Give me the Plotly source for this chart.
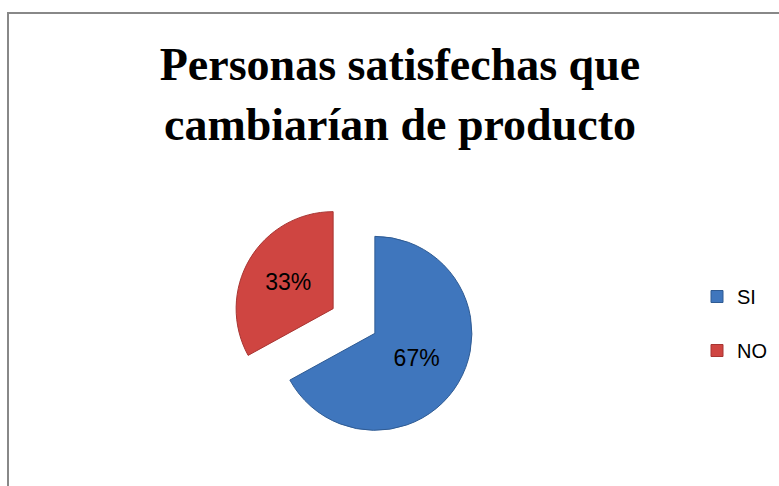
import plotly.graph_objects as go

labels = ["SI", "NO"]
values = [67, 33]
colors = ["#3f76bd", "#cf4541"]
line_colors = ["#2f5b93", "#a83532"]
title_text = "Personas satisfechas que<br>cambiarían de producto"

W, H = 779, 486

fig = go.Figure()

cx, cy, r, pull = 354, 321, 97, 0.25
half = r * (1 + pull)

fig.add_trace(go.Pie(
    labels=labels,
    values=values,
    sort=False,
    direction="clockwise",
    rotation=0,
    pull=[pull, pull],
    marker=dict(colors=colors, line=dict(color=line_colors, width=1)),
    texttemplate="%{percent:.0%}",
    textposition="inside",
    insidetextorientation="horizontal",
    textfont=dict(family="Liberation Sans", size=23, color="#000000"),
    showlegend=False,
    hoverinfo="label+percent",
    domain=dict(x=[(cx - half) / W, (cx + half) / W],
                y=[1 - (cy + half) / H, 1 - (cy - half) / H]),
))

for i, (lab, col) in enumerate(zip(labels, colors)):
    fig.add_trace(go.Scatter(
        x=[None], y=[None], mode="markers", name=lab,
        legendgroup=lab,
        marker=dict(symbol="square", size=12, color=col,
                    line=dict(color=line_colors[i], width=1)),
    ))

fig.update_layout(
    width=W, height=H,
    margin=dict(l=0, r=0, t=0, b=0),
    paper_bgcolor="white",
    plot_bgcolor="white",
    xaxis=dict(visible=False),
    yaxis=dict(visible=False),
    title=dict(
        text=title_text,
        x=400 / W, xanchor="center",
        y=1 - 80 / H, yanchor="middle", yref="container",
        font=dict(family="Liberation Serif", size=46, color="#000000",
                  weight="bold"),
    ),
    legend=dict(
        x=697 / W, xanchor="left",
        y=1 - 277 / H, yanchor="top",
        font=dict(family="Liberation Sans", size=20, color="#000000"),
        tracegroupgap=25,
        bgcolor="rgba(0,0,0,0)",
    ),
    shapes=[dict(
        type="rect", xref="paper", yref="paper",
        x0=8 / W, x1=1.05, y0=-0.05, y1=1 - 13 / H,
        line=dict(color="#888888", width=2),
        fillcolor="rgba(0,0,0,0)", layer="below",
    )],
)

fig.write_html("out.html",
               config={"displayModeBar": False},
               post_script="document.body.style.margin='0';document.body.style.padding='0';")
